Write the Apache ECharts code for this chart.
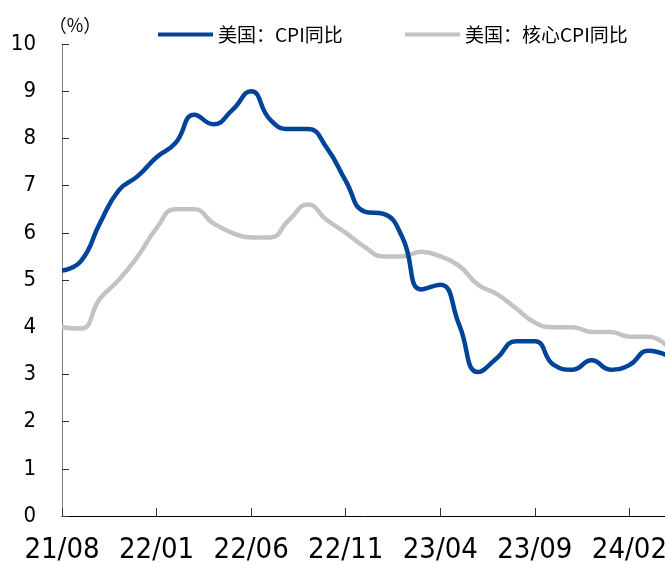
<!DOCTYPE html>
<html>
<head>
<meta charset="utf-8">
<script src="https://cdn.jsdelivr.net/npm/echarts@6/dist/echarts.min.js"></script>
<style>
html,body{margin:0;padding:0;background:#fff;overflow:hidden;}
#chart{width:670px;height:569px;}
</style>
</head>
<body>
<div id="chart"></div>
<script>
var categories = ["21/08","21/09","21/10","21/11","21/12","22/01","22/02","22/03","22/04","22/05","22/06","22/07","22/08","22/09","22/10","22/11","22/12","23/01","23/02","23/03","23/04","23/05","23/06","23/07","23/08","23/09","23/10","23/11","23/12","24/01","24/02","24/03","24/04"];
var cpiYoY = [5.2,5.4,6.2,6.9,7.2,7.6,7.9,8.5,8.3,8.6,9.0,8.4,8.2,8.2,7.8,7.1,6.45,6.4,5.9,4.8,4.9,4.05,3.05,3.35,3.7,3.7,3.2,3.1,3.3,3.1,3.2,3.5,3.4];
var coreCpiYoY = [4.0,3.97,4.6,5.0,5.5,6.1,6.5,6.5,6.2,6.0,5.9,5.9,6.27,6.6,6.27,6.0,5.7,5.5,5.5,5.6,5.5,5.3,4.9,4.7,4.4,4.1,4.0,4.0,3.9,3.9,3.8,3.8,3.6];
var yTicks = [0,1,2,3,4,5,6,7,8,9,10];
var seriesNames = ["美国：CPI同比","美国：核心CPI同比"];

var latinFont = '"Liberation Sans Narrow", "DejaVu Sans Condensed", "Liberation Sans", sans-serif';
var cjkFont = '"Noto Sans CJK SC", "DejaVu Sans", sans-serif';

var chart = echarts.init(document.getElementById('chart'), null, {renderer:'canvas'});
chart.setOption({
  animation: false,
  backgroundColor: '#ffffff',
  legend: [
    {
      data: [seriesNames[0]], left: 158, top: 25, padding: 0,
      icon: 'rect', itemWidth: 55, itemHeight: 4, itemGap: 4,
      textStyle: {fontFamily: cjkFont, fontSize: 19, color: '#000'}
    },
    {
      data: [seriesNames[1]], left: 405, top: 25, padding: 0,
      icon: 'rect', itemWidth: 55, itemHeight: 4, itemGap: 4,
      textStyle: {fontFamily: cjkFont, fontSize: 19, color: '#000'}
    }
  ],
  grid: {left: 62, right: 2, top: 44, bottom: 53, containLabel: false},
  xAxis: {
    type: 'category',
    data: categories,
    boundaryGap: false,
    axisLine: {lineStyle: {color: '#000', width: 1}},
    axisTick: {show: true, inside: true, length: 8, interval: 4, lineStyle: {color: '#333'}},
    axisLabel: {interval: 4, margin: 20, fontFamily: latinFont, fontSize: 29, color: '#000'},
    splitLine: {show: false}
  },
  yAxis: {
    type: 'value',
    min: yTicks[0], max: yTicks[yTicks.length-1], interval: 1,
    name: '（%）',
    nameLocation: 'end',
    nameGap: 10,
    nameTextStyle: {fontFamily: cjkFont, fontSize: 18, color: '#000', align: 'center', padding: [0,0,0,26]},
    axisLine: {show: true, lineStyle: {color: '#808080', width: 1}},
    axisTick: {show: true, inside: true, length: 7, lineStyle: {color: '#333'}},
    axisLabel: {margin: 26, fontFamily: latinFont, fontSize: 22, color: '#000'},
    splitLine: {show: false}
  },
  series: [
    {
      name: seriesNames[0], type: 'line', data: cpiYoY, smooth: 0.5,
      showSymbol: false, symbol: 'none', clip: true, z: 3,
      lineStyle: {color: '#00449a', width: 4.5},
      itemStyle: {color: '#00449a'}
    },
    {
      name: seriesNames[1], type: 'line', data: coreCpiYoY, smooth: 0.5,
      showSymbol: false, symbol: 'none', clip: true, z: 2,
      lineStyle: {color: '#c3c3c3', width: 4.5},
      itemStyle: {color: '#c3c3c3'}
    }
  ]
});
</script>
</body>
</html>
